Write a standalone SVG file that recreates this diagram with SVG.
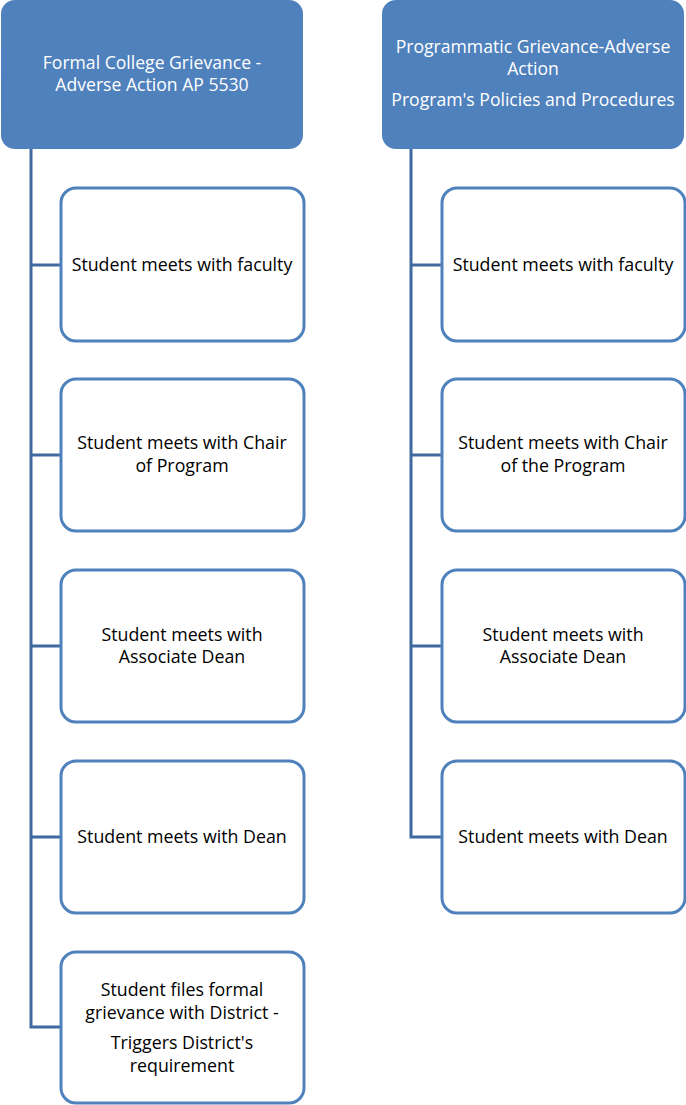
<svg xmlns="http://www.w3.org/2000/svg" width="686" height="1105" viewBox="0 0 686 1105">
<style>
.hdr{fill:#4f81bd;stroke:#4f81bd;stroke-width:2}
.box{fill:#ffffff;stroke:#4f81bd;stroke-width:3}
.ht{fill:#ffffff;font-family:"Open Sans","Liberation Sans",sans-serif;font-size:17.6px;text-anchor:middle;dominant-baseline:central}
.bt{fill:#000000;font-family:"Open Sans","Liberation Sans",sans-serif;font-size:17.8px;text-anchor:middle;dominant-baseline:central}
.con{fill:none;stroke:#3f6a9e;stroke-width:3}
</style>
<rect width="686" height="1105" fill="#ffffff"/>
<g id="connectors">
<path class="con" d="M31 148 V1027 H61 M31 265 H61 M31 455 H61 M31 646 H61 M31 837 H61"/>
<path class="con" d="M411 148 V837 H442 M411 265 H442 M411 455 H442 M411 646 H442"/>
</g>
<g id="h1"><rect class="hdr" x="2" y="1" width="300" height="147" rx="13"/>
<text class="ht" x="152" y="62">Formal College Grievance -</text>
<text class="ht" x="152" y="84">Adverse Action AP 5530</text></g>
<g id="h2"><rect class="hdr" x="383" y="1" width="300" height="147" rx="13"/>
<text class="ht" x="533" y="46">Programmatic Grievance-Adverse</text>
<text class="ht" x="533" y="68">Action</text>
<text class="ht" x="533" y="99">Program's Policies and Procedures</text></g>
<g id="l1"><rect class="box" x="61" y="188" width="243" height="153" rx="15"/>
<text class="bt" x="182" y="264">Student meets with faculty</text></g>
<g id="l2"><rect class="box" x="61" y="379" width="243" height="152" rx="15"/>
<text class="bt" x="182" y="442">Student meets with Chair</text>
<text class="bt" x="182" y="465">of Program</text></g>
<g id="l3"><rect class="box" x="61" y="570" width="243" height="152" rx="15"/>
<text class="bt" x="182" y="634">Student meets with</text>
<text class="bt" x="182" y="656">Associate Dean</text></g>
<g id="l4"><rect class="box" x="61" y="761" width="243" height="152" rx="15"/>
<text class="bt" x="182" y="836">Student meets with Dean</text></g>
<g id="l5"><rect class="box" x="61" y="952" width="243" height="151" rx="15"/>
<text class="bt" x="182" y="989">Student files formal</text>
<text class="bt" x="182" y="1012">grievance with District -</text>
<text class="bt" x="182" y="1042">Triggers District's</text>
<text class="bt" x="182" y="1065">requirement</text></g>
<g id="r1"><rect class="box" x="442" y="188" width="243" height="153" rx="15"/>
<text class="bt" x="563" y="264">Student meets with faculty</text></g>
<g id="r2"><rect class="box" x="442" y="379" width="243" height="152" rx="15"/>
<text class="bt" x="563" y="442">Student meets with Chair</text>
<text class="bt" x="563" y="465">of the Program</text></g>
<g id="r3"><rect class="box" x="442" y="570" width="243" height="152" rx="15"/>
<text class="bt" x="563" y="634">Student meets with</text>
<text class="bt" x="563" y="656">Associate Dean</text></g>
<g id="r4"><rect class="box" x="442" y="761" width="243" height="152" rx="15"/>
<text class="bt" x="563" y="836">Student meets with Dean</text></g>
</svg>
